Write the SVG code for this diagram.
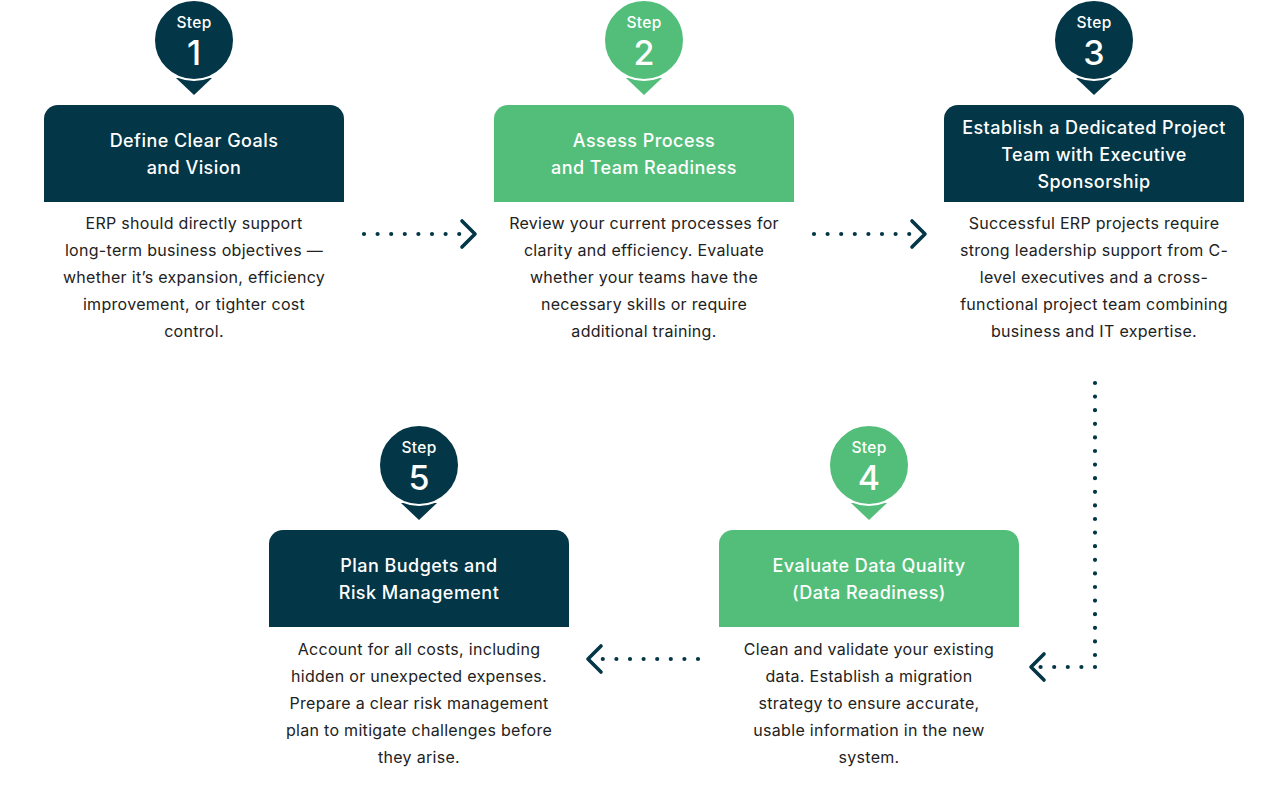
<svg xmlns="http://www.w3.org/2000/svg" width="1288" height="808" viewBox="0 0 1288 808">
<defs>
<style>
.bg{fill:#ffffff}
.dark{fill:#033646}
.green{fill:#53BE79}
.ring{stroke:#ffffff;stroke-width:2}
.step{font-family:Inter,"Noto Sans",sans-serif;font-size:15.5px;font-weight:500;fill:#ffffff;text-anchor:middle;letter-spacing:0.3px}
.num{font-family:Inter,"Noto Sans",sans-serif;font-size:34px;font-weight:500;fill:#ffffff;text-anchor:middle}
.head{font-family:Inter,"Noto Sans",sans-serif;font-size:18px;font-weight:500;fill:#ffffff;text-anchor:middle;letter-spacing:0.45px}
.body{font-family:Inter,"Noto Sans",sans-serif;font-size:16px;font-weight:400;fill:#222222;text-anchor:middle;letter-spacing:0.3px}
.dots{fill:none;stroke:#033646;stroke-width:4.2;stroke-linecap:round;stroke-dasharray:0 13.6}
.chev{fill:none;stroke:#033646;stroke-width:3.6;stroke-linecap:round;stroke-linejoin:round}
</style>
</defs>
<rect class="bg" x="0" y="0" width="1288" height="808"/>

<g id="connectors">
<line class="dots" x1="364" y1="234" x2="460" y2="234"/>
<polyline class="chev" points="462,221 475,234 462,247"/>
<line class="dots" x1="814" y1="234" x2="910" y2="234"/>
<polyline class="chev" points="912,221 925,234 912,247"/>
<line class="dots" x1="1095" y1="383" x2="1095" y2="665"/>
<line class="dots" x1="1095" y1="667" x2="1040" y2="667"/>
<polyline class="chev" points="1044,654 1031,667 1044,680"/>
<line class="dots" x1="698" y1="659" x2="600" y2="659"/>
<polyline class="chev" points="601,646 588,659 601,672"/>
</g>

<g id="step1">
<polygon class="dark" points="176,78 212,78 194,95"/>
<circle class="dark ring" cx="194" cy="40" r="40"/>
<text class="step" x="194" y="28">Step</text>
<text class="num" x="194" y="65">1</text>
<path class="dark" d="M44,119 a14,14 0 0 1 14,-14 h272 a14,14 0 0 1 14,14 v83 h-300 z"/>
<text class="head" x="194" y="147">Define Clear Goals</text>
<text class="head" x="194" y="174">and Vision</text>
<text class="body" x="194" y="229">ERP should directly support</text>
<text class="body" x="194" y="256">long-term business objectives —</text>
<text class="body" x="194" y="283">whether it’s expansion, efficiency</text>
<text class="body" x="194" y="310">improvement, or tighter cost</text>
<text class="body" x="194" y="337">control.</text>
</g>

<g id="step2">
<polygon class="green" points="626,78 662,78 644,95"/>
<circle class="green ring" cx="644" cy="40" r="40"/>
<text class="step" x="644" y="28">Step</text>
<text class="num" x="644" y="65">2</text>
<path class="green" d="M494,119 a14,14 0 0 1 14,-14 h272 a14,14 0 0 1 14,14 v83 h-300 z"/>
<text class="head" x="644" y="147">Assess Process</text>
<text class="head" x="644" y="174">and Team Readiness</text>
<text class="body" x="644" y="229">Review your current processes for</text>
<text class="body" x="644" y="256">clarity and efficiency. Evaluate</text>
<text class="body" x="644" y="283">whether your teams have the</text>
<text class="body" x="644" y="310">necessary skills or require</text>
<text class="body" x="644" y="337">additional training.</text>
</g>

<g id="step3">
<polygon class="dark" points="1076,78 1112,78 1094,95"/>
<circle class="dark ring" cx="1094" cy="40" r="40"/>
<text class="step" x="1094" y="28">Step</text>
<text class="num" x="1094" y="65">3</text>
<path class="dark" d="M944,119 a14,14 0 0 1 14,-14 h272 a14,14 0 0 1 14,14 v83 h-300 z"/>
<text class="head" x="1094" y="134">Establish a Dedicated Project</text>
<text class="head" x="1094" y="161">Team with Executive</text>
<text class="head" x="1094" y="188">Sponsorship</text>
<text class="body" x="1094" y="229">Successful ERP projects require</text>
<text class="body" x="1094" y="256">strong leadership support from C-</text>
<text class="body" x="1094" y="283">level executives and a cross-</text>
<text class="body" x="1094" y="310">functional project team combining</text>
<text class="body" x="1094" y="337">business and IT expertise.</text>
</g>

<g id="step4">
<polygon class="green" points="851,503 887,503 869,520"/>
<circle class="green ring" cx="869" cy="465" r="40"/>
<text class="step" x="869" y="453">Step</text>
<text class="num" x="869" y="490">4</text>
<path class="green" d="M719,544 a14,14 0 0 1 14,-14 h272 a14,14 0 0 1 14,14 v83 h-300 z"/>
<text class="head" x="869" y="572">Evaluate Data Quality</text>
<text class="head" x="869" y="599">(Data Readiness)</text>
<text class="body" x="869" y="655">Clean and validate your existing</text>
<text class="body" x="869" y="682">data. Establish a migration</text>
<text class="body" x="869" y="709">strategy to ensure accurate,</text>
<text class="body" x="869" y="736">usable information in the new</text>
<text class="body" x="869" y="763">system.</text>
</g>

<g id="step5">
<polygon class="dark" points="401,503 437,503 419,520"/>
<circle class="dark ring" cx="419" cy="465" r="40"/>
<text class="step" x="419" y="453">Step</text>
<text class="num" x="419" y="490">5</text>
<path class="dark" d="M269,544 a14,14 0 0 1 14,-14 h272 a14,14 0 0 1 14,14 v83 h-300 z"/>
<text class="head" x="419" y="572">Plan Budgets and</text>
<text class="head" x="419" y="599">Risk Management</text>
<text class="body" x="419" y="655">Account for all costs, including</text>
<text class="body" x="419" y="682">hidden or unexpected expenses.</text>
<text class="body" x="419" y="709">Prepare a clear risk management</text>
<text class="body" x="419" y="736">plan to mitigate challenges before</text>
<text class="body" x="419" y="763">they arise.</text>
</g>
</svg>
